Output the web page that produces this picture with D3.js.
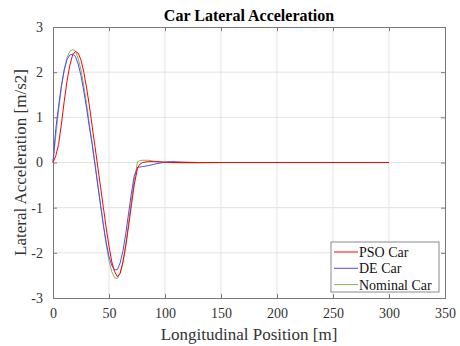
<!DOCTYPE html>
<html>
<head>
<meta charset="utf-8">
<script src="https://cdn.jsdelivr.net/npm/d3@7"></script>
<style>
  body { margin: 0; background: #fff; }
  svg text { font-family: "Liberation Serif", "DejaVu Serif", serif; }
</style>
</head>
<body>
<div id="main"></div>
<script>
// positions along the road [m]
var pos = [0, 2.5, 5, 7.5, 10, 12.5, 15, 17.5, 20, 22.5, 25, 27.5, 30, 32.5, 35, 37.5, 40,
    42.5, 45, 47.5, 50, 52.5, 55, 57.5, 60, 62.5, 65, 67.5, 70, 72.5, 75.5, 77.5, 80, 85, 90,
    98, 105, 115, 130, 150, 200, 250, 300];

// lateral acceleration [m/s2] for each car
var psoCar = [0, 0.15, 0.4, 0.85, 1.35, 1.8, 2.15, 2.38, 2.46, 2.42, 2.27, 2.0, 1.65, 1.25, 0.8, 0.35, -0.1,
    -0.55, -1.0, -1.45, -1.85, -2.2, -2.42, -2.53, -2.45, -2.2, -1.85, -1.4, -0.95, -0.5, -0.12, -0.04, 0.0, 0.02, 0.02,
    0.01, 0.0, 0.0, 0.0, 0.0, 0.0, 0.0, 0.0];
var deCar = [0, 0.75, 1.25, 1.7, 2.05, 2.28, 2.38, 2.4, 2.35, 2.18, 1.92, 1.58, 1.2, 0.78, 0.4, -0.05, -0.5,
    -0.95, -1.38, -1.77, -2.08, -2.28, -2.38, -2.37, -2.22, -1.95, -1.57, -1.12, -0.68, -0.3, -0.11, -0.1, -0.09, -0.07, -0.04,
    0.0, 0.02, 0.01, 0.0, 0.0, 0.0, 0.0, 0.0];
var nominalCar = [0, 0.6, 1.15, 1.65, 2.05, 2.32, 2.46, 2.5, 2.47, 2.3, 2.05, 1.7, 1.3, 0.85, 0.42, -0.03, -0.5,
    -0.95, -1.4, -1.82, -2.18, -2.42, -2.55, -2.57, -2.45, -2.2, -1.8, -1.35, -0.85, -0.4, 0.02, 0.04, 0.05, 0.05, 0.03,
    0.01, 0.0, -0.01, -0.01, 0.0, 0.0, 0.0, 0.0];

var xTicks = [0, 50, 100, 150, 200, 250, 300, 350];
var yTicks = [-3, -2, -1, 0, 1, 2, 3];

var series = [
    { name: 'PSO Car', values: psoCar, color: '#ff0000' },
    { name: 'DE Car', values: deCar, color: '#4a4aff' },
    { name: 'Nominal Car', values: nominalCar, color: '#86b75a' }
];

var W = 460, H = 346;
var margin = { top: 27, right: 15, bottom: 48, left: 53 };
var width = W - margin.left - margin.right,
    height = H - margin.top - margin.bottom;

var svg = d3.select('#main').append('svg')
    .attr('width', W)
    .attr('height', H);

var xScale = d3.scaleLinear().domain([0, 350]).range([0, width]);
var yScale = d3.scaleLinear().domain([-3, 3]).range([height, 0]);

var g = svg.append('g')
    .attr('transform', 'translate(' + margin.left + ',' + margin.top + ')');

// grid
g.append('g').selectAll('line')
    .data(xTicks.slice(1, -1))
    .enter().append('line')
    .attr('x1', d => xScale(d)).attr('x2', d => xScale(d))
    .attr('y1', 0).attr('y2', height)
    .attr('stroke', '#e3e3e3');
g.append('g').selectAll('line')
    .data(yTicks.slice(1, -1))
    .enter().append('line')
    .attr('y1', d => yScale(d)).attr('y2', d => yScale(d))
    .attr('x1', 0).attr('x2', width)
    .attr('stroke', '#e3e3e3');

// axes (MATLAB style, ticks inside, box on)
var axisColor = '#7a7a7a';
var fmt = d => (d < 0 ? '-' : '') + Math.abs(d);
var xAxis = d3.axisBottom(xScale).tickValues(xTicks).tickSize(-4).tickPadding(10).tickFormat(fmt);
var yAxis = d3.axisLeft(yScale).tickValues(yTicks).tickSize(-4).tickPadding(10).tickFormat(fmt);

function styleAxis(sel) {
    sel.attr('font-family', '"Liberation Serif", serif').attr('font-size', 14);
    sel.select('.domain').attr('stroke', axisColor);
    sel.selectAll('.tick line').attr('stroke', axisColor);
    sel.selectAll('.tick text').attr('fill', '#333');
}

g.append('g').attr('transform', 'translate(0,' + height + ')').call(xAxis).call(styleAxis);
g.append('g').call(yAxis).call(styleAxis);
g.append('g').call(d3.axisTop(xScale).tickValues(xTicks).tickSize(-4).tickFormat(''))
    .call(styleAxis);
g.append('g').attr('transform', 'translate(' + width + ',0)')
    .call(d3.axisRight(yScale).tickValues(yTicks).tickSize(-4).tickFormat(''))
    .call(styleAxis);

// lines
var line = d3.line()
    .x((d, i) => xScale(pos[i]))
    .y(d => yScale(d));

g.selectAll('.series')
    .data(series.slice().reverse())
    .enter().append('path')
    .attr('class', 'series')
    .attr('d', d => line(d.values))
    .attr('fill', 'none')
    .attr('stroke', d => d.color)
    .attr('stroke-width', 1);

// title and labels
svg.append('text')
    .attr('x', margin.left + width / 2).attr('y', 21)
    .attr('text-anchor', 'middle')
    .style('font-size', '16px').style('font-weight', 'bold')
    .attr('fill', '#000')
    .text('Car Lateral Acceleration');

svg.append('text')
    .attr('x', margin.left + width / 2).attr('y', 340)
    .attr('text-anchor', 'middle')
    .style('font-size', '17px')
    .attr('fill', '#333')
    .text('Longitudinal Position [m]');

svg.append('text')
    .attr('transform', 'translate(26,' + (margin.top + height / 2) + ') rotate(-90)')
    .attr('text-anchor', 'middle')
    .style('font-size', '17px')
    .attr('fill', '#333')
    .text('Lateral Acceleration [m/s2]');

// legend
var legend = svg.append('g').attr('transform', 'translate(331,242)');
legend.append('rect')
    .attr('width', 108).attr('height', 50)
    .attr('fill', '#fff')
    .attr('stroke', '#8a8a8a');
var items = legend.selectAll('.item')
    .data(series)
    .enter().append('g')
    .attr('transform', (d, i) => 'translate(0,' + (10 + i * 16.3) + ')');
items.append('line')
    .attr('x1', 3).attr('x2', 27)
    .attr('stroke', d => d.color)
    .attr('stroke-width', 1);
items.append('text')
    .attr('x', 28).attr('y', 5)
    .style('font-size', '14px')
    .attr('fill', '#111')
    .text(d => d.name);
</script>
</body>
</html>
